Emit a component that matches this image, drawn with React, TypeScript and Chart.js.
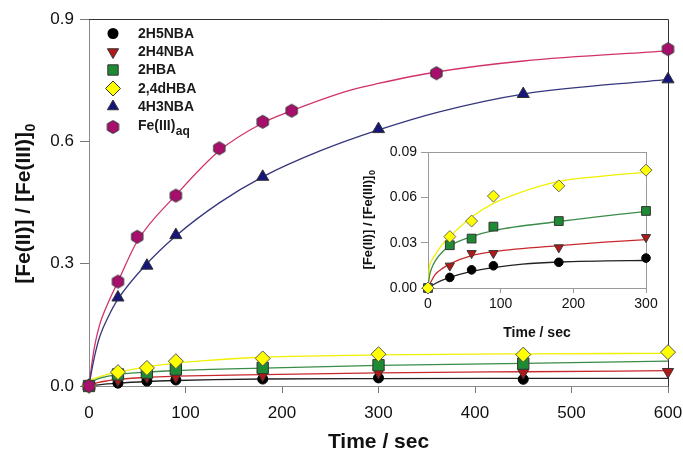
import React, { useEffect, useRef } from 'react';
import { Chart, registerables } from 'chart.js';

Chart.register(...registerables);

const FONT = "'Liberation Sans', Arial, Helvetica, sans-serif";

// ---------------- measured data ----------------
const T_2H5NBA = [0, 30, 60, 90, 180, 300, 450];
const V_2H5NBA = [0, 0.007, 0.012, 0.0147, 0.017, 0.0198, 0.0164];

const T_2H4NBA = [0, 30, 60, 90, 180, 300, 450, 600];
const V_2H4NBA = [0, 0.0147, 0.023, 0.023, 0.0268, 0.0336, 0.033, 0.035];

const T_2HBA = [0, 30, 60, 90, 180, 300, 450];
const V_2HBA = [0, 0.0283, 0.0327, 0.0406, 0.0443, 0.051, 0.055];

const T_24DHBA = [0, 30, 60, 90, 180, 300, 450, 600];
const V_24DHBA = [0, 0.034, 0.0443, 0.0608, 0.0676, 0.078, 0.077, 0.083];

const T_4H3NBA = [0, 30, 60, 90, 180, 300, 450, 600];
const V_4H3NBA = [0, 0.217, 0.295, 0.37, 0.513, 0.63, 0.716, 0.752];

const T_FE = [0, 30, 50, 90, 135, 180, 210, 360, 600];
const V_FE = [0, 0.256, 0.366, 0.467, 0.583, 0.648, 0.675, 0.767, 0.826];

// ---------------- fitted curves ----------------
const FIT_T_2H5NBA = [0, 10, 30, 60, 90, 130, 180, 300, 450, 600];
const FIT_V_2H5NBA = [0, 0.003, 0.007, 0.011, 0.0135, 0.0158, 0.0172, 0.0182, 0.0186, 0.0188];

const FIT_T_2H4NBA = [0, 5, 10, 20, 30, 60, 90, 180, 300, 450, 600];
const FIT_V_2H4NBA = [0, 0.005, 0.009, 0.013, 0.016, 0.0215, 0.024, 0.028, 0.032, 0.035, 0.0375];

const FIT_T_2HBA = [0, 2, 5, 10, 20, 30, 60, 90, 180, 300, 450, 600];
const FIT_V_2HBA = [0, 0.008, 0.013, 0.018, 0.024, 0.028, 0.034, 0.038, 0.044, 0.0505, 0.0555, 0.061];

const FIT_T_24DHBA = [0, 2, 5, 10, 20, 30, 60, 90, 120, 180, 240, 300, 450, 600];
const FIT_V_24DHBA = [0, 0.014, 0.018, 0.022, 0.029, 0.034, 0.047, 0.056, 0.062, 0.0705, 0.074, 0.0765, 0.079, 0.080];

const FIT_T_4H3NBA = [0, 3, 6, 11, 20, 30, 60, 90, 135, 180, 240, 300, 364, 450, 600];
const FIT_V_4H3NBA = [0, 0.04, 0.075, 0.12, 0.17, 0.213, 0.3, 0.368, 0.449, 0.513, 0.577, 0.628, 0.673, 0.716, 0.752];

const FIT_T_FE = [0, 3, 6, 11, 20, 30, 50, 90, 135, 180, 210, 270, 300, 360, 450, 600];
const FIT_V_FE = [0, 0.055, 0.1, 0.15, 0.205, 0.256, 0.355, 0.468, 0.577, 0.645, 0.675, 0.725, 0.742, 0.77, 0.797, 0.822];

// ---------------- axis ticks ----------------
const MAIN_X_TICKS = [0, 100, 200, 300, 400, 500, 600];
const MAIN_Y_TICKS = [0, 0.3, 0.6, 0.9];
const INSET_X_TICKS = [0, 100, 200, 300];
const INSET_Y_TICKS = [0, 0.03, 0.06, 0.09];

const LEGEND_LABELS = ['2H5NBA', '2H4NBA', '2HBA', '2,4dHBA', '4H3NBA', 'Fe(III)'];

// colours
const C_BLACK = '#000000';
const C_RED = '#B21818';
const C_GREEN = '#1F8A34';
const C_YELLOW = '#FFFF00';
const C_NAVY = '#16167A';
const C_MAG = '#A80E6C';

const L_BLACK = '#222222';
const L_RED = '#C8282C';
const L_GREEN = '#3A8C48';
const L_YELLOW = '#F0F000';
const L_NAVY = '#36367E';
const L_MAG = '#D2326A';

const pts = (t: number[], v: number[], maxT = Infinity) =>
  t.map((x, i) => ({ x, y: v[i] })).filter((p) => p.x <= maxT);

function makeHexagon(r: number, fill: string, stroke: string): HTMLCanvasElement {
  const c = document.createElement('canvas');
  const w = Math.ceil(r * Math.sqrt(3)) + 3;
  const h = Math.ceil(2 * r) + 3;
  c.width = w;
  c.height = h;
  const ctx = c.getContext('2d')!;
  const cx = w / 2;
  const cy = h / 2;
  ctx.beginPath();
  for (let i = 0; i < 6; i++) {
    const a = (Math.PI / 3) * i - Math.PI / 2;
    const px = cx + r * Math.cos(a);
    const py = cy + r * Math.sin(a);
    if (i === 0) ctx.moveTo(px, py);
    else ctx.lineTo(px, py);
  }
  ctx.closePath();
  ctx.fillStyle = fill;
  ctx.fill();
  ctx.strokeStyle = stroke;
  ctx.lineWidth = 1;
  ctx.stroke();
  return c;
}

function marker(label: string, data: any[], style: any, color: string, radius: number, order: number, rotation = 0, border = '#333333') {
  return {
    label,
    data,
    showLine: false,
    pointStyle: style,
    pointRadius: radius,
    pointRotation: rotation,
    pointBackgroundColor: color,
    pointBorderColor: border,
    pointBorderWidth: 1,
    backgroundColor: color,
    borderColor: border,
    clip: false,
    order,
  };
}

function fitLine(data: any[], color: string) {
  return {
    label: 'fit',
    data,
    showLine: true,
    pointRadius: 0,
    pointHoverRadius: 0,
    borderColor: color,
    borderWidth: 1.3,
    backgroundColor: color,
    cubicInterpolationMode: 'monotone',
    fill: false,
    order: 10,
  };
}

function drawLegendMarker(ctx: CanvasRenderingContext2D, i: number, x: number, y: number, hex: HTMLCanvasElement) {
  ctx.save();
  ctx.lineWidth = 1;
  ctx.strokeStyle = '#333333';
  ctx.beginPath();
  if (i === 0) {
    ctx.fillStyle = C_BLACK;
    ctx.arc(x, y, 5.5, 0, Math.PI * 2);
    ctx.fill();
  } else if (i === 1) {
    ctx.fillStyle = C_RED;
    const r = 6.5;
    ctx.moveTo(x - r * 0.866, y - r * 0.5);
    ctx.lineTo(x + r * 0.866, y - r * 0.5);
    ctx.lineTo(x, y + r);
    ctx.closePath();
    ctx.fill();
    ctx.stroke();
  } else if (i === 2) {
    ctx.fillStyle = C_GREEN;
    ctx.rect(x - 5.2, y - 5.2, 10.4, 10.4);
    ctx.fill();
    ctx.stroke();
  } else if (i === 3) {
    ctx.fillStyle = C_YELLOW;
    const r = 7.5;
    ctx.moveTo(x, y - r);
    ctx.lineTo(x + r, y);
    ctx.lineTo(x, y + r);
    ctx.lineTo(x - r, y);
    ctx.closePath();
    ctx.fill();
    ctx.stroke();
  } else if (i === 4) {
    ctx.fillStyle = C_NAVY;
    const r = 6.5;
    ctx.moveTo(x, y - r);
    ctx.lineTo(x + r * 0.866, y + r * 0.5);
    ctx.lineTo(x - r * 0.866, y + r * 0.5);
    ctx.closePath();
    ctx.fill();
    ctx.stroke();
  } else {
    ctx.drawImage(hex, x - hex.width / 2, y - hex.height / 2);
  }
  ctx.restore();
}

function drawRotatedTitle(ctx: CanvasRenderingContext2D, cx: number, cy: number, size: number, subSize: number) {
  const main = '[Fe(II)] / [Fe(III)]';
  ctx.save();
  ctx.font = `bold ${size}px ${FONT}`;
  const w1 = ctx.measureText(main).width;
  ctx.font = `bold ${subSize}px ${FONT}`;
  const w2 = ctx.measureText('0').width;
  const total = w1 + w2;
  ctx.translate(cx, cy);
  ctx.rotate(-Math.PI / 2);
  ctx.fillStyle = '#111111';
  ctx.textBaseline = 'middle';
  ctx.textAlign = 'left';
  ctx.font = `bold ${size}px ${FONT}`;
  ctx.fillText(main, -total / 2, 0);
  ctx.font = `bold ${subSize}px ${FONT}`;
  ctx.fillText('0', -total / 2 + w1 + 0.5, size * 0.32);
  ctx.restore();
}

function tickSetter(values: number[]) {
  return (scale: any) => {
    scale.ticks = values.map((v) => ({ value: v }));
  };
}

export default function App() {
  const mainRef = useRef<HTMLCanvasElement | null>(null);
  const insetRef = useRef<HTMLCanvasElement | null>(null);

  useEffect(() => {
    const hexMain = makeHexagon(6.5, C_MAG, '#333333');

    const mainDecor = {
      id: 'mainDecor',
      beforeDatasetsDraw(chart: any) {
        const { ctx, chartArea: a } = chart;
        ctx.save();
        ctx.lineWidth = 1;
        ctx.strokeStyle = '#8a8a8a';
        ctx.beginPath();
        ctx.moveTo(a.left + 0.5, a.top);
        ctx.lineTo(a.left + 0.5, a.bottom + 0.5);
        ctx.lineTo(a.right, a.bottom + 0.5);
        ctx.stroke();
        ctx.strokeStyle = '#333333';
        ctx.beginPath();
        ctx.moveTo(a.left, a.top + 0.5);
        ctx.lineTo(a.right + 0.5, a.top + 0.5);
        ctx.lineTo(a.right + 0.5, a.bottom + 0.5);
        ctx.stroke();
        ctx.restore();
      },
      afterDraw(chart: any) {
        const { ctx, chartArea: a } = chart;
        ctx.save();
        // x title
        ctx.fillStyle = '#111111';
        ctx.font = `bold 21px ${FONT}`;
        ctx.textAlign = 'center';
        ctx.textBaseline = 'middle';
        ctx.fillText('Time / sec', (a.left + a.right) / 2, 442);
        // y title
        drawRotatedTitle(ctx, 24, 204, 21, 14);
        // legend
        const rows = [33.5, 52, 70, 88.5, 106.5, 127];
        rows.forEach((y, i) => {
          drawLegendMarker(ctx, i, 113, y, hexMain);
          ctx.fillStyle = '#1a1a1a';
          ctx.font = `bold 14px ${FONT}`;
          ctx.textAlign = 'left';
          ctx.textBaseline = 'middle';
          ctx.fillText(LEGEND_LABELS[i], 138, i === 5 ? y - 1 : y + 0.5);
          if (i === 5) {
            const w = ctx.measureText(LEGEND_LABELS[i]).width;
            ctx.font = `bold 12px ${FONT}`;
            ctx.fillText('aq', 138 + w + 0.5, y + 5);
          }
        });
        ctx.restore();
      },
    };

    const main = new Chart(mainRef.current!, {
      type: 'scatter',
      data: {
        datasets: [
          marker('2H5NBA', pts(T_2H5NBA, V_2H5NBA), 'circle', C_BLACK, 5, 5, 0, '#000000'),
          marker('2H4NBA', pts(T_2H4NBA, V_2H4NBA), 'triangle', C_RED, 6.5, 4, 180),
          marker('2HBA', pts(T_2HBA, V_2HBA), 'rect', C_GREEN, 8, 3),
          marker('2,4dHBA', pts(T_24DHBA, V_24DHBA), 'rectRot', C_YELLOW, 7.5, 2, 0, '#555555'),
          marker('4H3NBA', pts(T_4H3NBA, V_4H3NBA), 'triangle', C_NAVY, 7, 1),
          marker('Fe(III)aq', pts(T_FE, V_FE), hexMain, C_MAG, 6.5, 0),
          fitLine(pts(FIT_T_2H5NBA, FIT_V_2H5NBA), L_BLACK),
          fitLine(pts(FIT_T_2H4NBA, FIT_V_2H4NBA), L_RED),
          fitLine(pts(FIT_T_2HBA, FIT_V_2HBA), L_GREEN),
          fitLine(pts(FIT_T_24DHBA, FIT_V_24DHBA), L_YELLOW),
          fitLine(pts(FIT_T_4H3NBA, FIT_V_4H3NBA), L_NAVY),
          fitLine(pts(FIT_T_FE, FIT_V_FE), L_MAG),
        ] as any,
      },
      options: {
        animation: false,
        responsive: false,
        devicePixelRatio: 1,
        events: [],
        layout: { padding: { top: 19, right: 15, left: 0, bottom: 0 } },
        plugins: { legend: { display: false }, tooltip: { enabled: false } },
        scales: {
          x: {
            type: 'linear',
            min: 0,
            max: 600,
            afterBuildTicks: tickSetter(MAIN_X_TICKS),
            afterFit: (s: any) => { s.height = 69; s.paddingLeft = 0; s.paddingRight = 0; },
            ticks: { color: '#111111', font: { family: FONT, size: 17 }, padding: 10, maxRotation: 0 },
            grid: { display: true, drawOnChartArea: false, drawTicks: true, tickLength: 7, color: '#777777' },
            border: { display: false },
          },
          y: {
            type: 'linear',
            min: 0,
            max: 0.9,
            afterBuildTicks: tickSetter(MAIN_Y_TICKS),
            afterFit: (s: any) => { s.width = 89; s.paddingTop = 0; s.paddingBottom = 0; },
            ticks: { color: '#111111', font: { family: FONT, size: 17 }, padding: 6, callback: (v: any) => Number(v).toFixed(1) },
            grid: { display: true, drawOnChartArea: false, drawTicks: true, tickLength: 9, color: '#777777' },
            border: { display: false },
          },
        },
      } as any,
      plugins: [mainDecor],
    });

    const insetDecor = {
      id: 'insetDecor',
      beforeDatasetsDraw(chart: any) {
        const { ctx, chartArea: a } = chart;
        ctx.save();
        ctx.lineWidth = 1;
        ctx.strokeStyle = '#9a9a9a';
        ctx.strokeRect(Math.round(a.left) + 0.5, Math.round(a.top) + 0.5, Math.round(a.right - a.left), Math.round(a.bottom - a.top));
        ctx.restore();
      },
      afterDraw(chart: any) {
        const { ctx, chartArea: a } = chart;
        ctx.save();
        ctx.fillStyle = '#111111';
        ctx.font = `bold 14px ${FONT}`;
        ctx.textAlign = 'center';
        ctx.textBaseline = 'middle';
        ctx.fillText('Time / sec', (a.left + a.right) / 2, 191);
        drawRotatedTitle(ctx, 18, (a.top + a.bottom) / 2, 13, 9);
        ctx.restore();
      },
    };

    const inset = new Chart(insetRef.current!, {
      type: 'scatter',
      data: {
        datasets: [
          marker('2H5NBA', pts(T_2H5NBA, V_2H5NBA, 300), 'circle', C_BLACK, 4.3, 5, 0, '#000000'),
          marker('2H4NBA', pts(T_2H4NBA, V_2H4NBA, 300), 'triangle', C_RED, 5.3, 4, 180),
          marker('2HBA', pts(T_2HBA, V_2HBA, 300), 'rect', C_GREEN, 6.2, 3),
          marker('2,4dHBA', pts(T_24DHBA, V_24DHBA, 300), 'rectRot', C_YELLOW, 6, 2, 0, '#666666'),
          fitLine(pts(FIT_T_2H5NBA, FIT_V_2H5NBA), L_BLACK),
          fitLine(pts(FIT_T_2H4NBA, FIT_V_2H4NBA), L_RED),
          fitLine(pts(FIT_T_2HBA, FIT_V_2HBA), L_GREEN),
          fitLine(pts(FIT_T_24DHBA, FIT_V_24DHBA), L_YELLOW),
        ] as any,
      },
      options: {
        animation: false,
        responsive: false,
        devicePixelRatio: 1,
        events: [],
        layout: { padding: { top: 10, right: 19, left: 0, bottom: 0 } },
        plugins: { legend: { display: false }, tooltip: { enabled: false } },
        scales: {
          x: {
            type: 'linear',
            min: 0,
            max: 300,
            afterBuildTicks: tickSetter(INSET_X_TICKS),
            afterFit: (s: any) => { s.height = 54; s.paddingLeft = 0; s.paddingRight = 0; },
            ticks: { color: '#111111', font: { family: FONT, size: 14 }, padding: 3, maxRotation: 0 },
            grid: { display: true, drawOnChartArea: false, drawTicks: true, tickLength: 5, color: '#9a9a9a' },
            border: { display: false },
          },
          y: {
            type: 'linear',
            min: 0,
            max: 0.09,
            afterBuildTicks: tickSetter(INSET_Y_TICKS),
            afterFit: (s: any) => { s.width = 78; s.paddingTop = 0; s.paddingBottom = 0; },
            ticks: { color: '#111111', font: { family: FONT, size: 14 }, padding: 4, callback: (v: any) => Number(v).toFixed(2) },
            grid: { display: true, drawOnChartArea: false, drawTicks: true, tickLength: 7, color: '#9a9a9a' },
            border: { display: false },
          },
        },
      } as any,
      plugins: [insetDecor],
    });

    return () => {
      main.destroy();
      inset.destroy();
    };
  }, []);

  return (
    <div style={{ position: 'absolute', left: 0, top: 0, width: 683, height: 455, background: '#ffffff' }}>
      <canvas ref={mainRef} width={683} height={455} style={{ position: 'absolute', left: 0, top: 0 }} />
      <canvas ref={insetRef} width={315} height={200} style={{ position: 'absolute', left: 350, top: 142 }} />
    </div>
  );
}
